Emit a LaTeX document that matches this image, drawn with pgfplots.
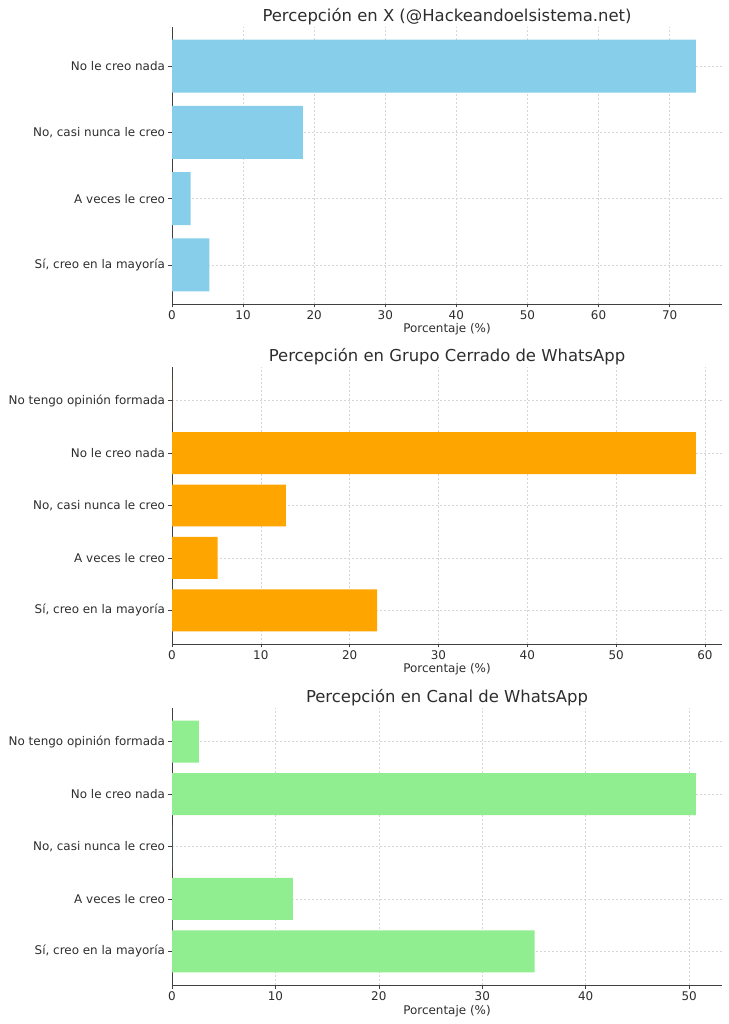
\documentclass[border=0pt]{standalone}
\usepackage{pgfplots}
\pgfplotsset{compat=1.18}
\usepackage{fontspec}
\setmainfont{DejaVu Sans}
\definecolor{skyb}{RGB}{135,206,235}
\definecolor{orng}{RGB}{255,165,0}
\definecolor{lgrn}{RGB}{144,238,144}
\definecolor{txt}{RGB}{45,45,45}
\pgfplotsset{
  panel/.style={
    scale only axis, width=550bp, height=277bp,
    xbar, bar width=0.8, xmin=0,
    axis x line*=bottom, axis y line*=left,
    axis line style={-, black!75},
    tick align=outside, major tick length=3.5bp,
    tick style={black!75, line width=0.6pt},
    grid=major,
    major grid style={dash pattern=on 2bp off 2bp, black!16, line width=0.45pt},
    ytick={0,1,2,3,4},
    yticklabels={{Sí, creo en la mayoría},{A veces le creo},{No, casi nunca le creo},{No le creo nada},{No tengo opinión formada}},
    ticklabel style={font=\fontsize{12}{14}\selectfont, text=txt},
    /pgf/number format/assume math mode=true,
    xlabel={Porcentaje (\%)},
    xlabel style={font=\fontsize{12}{14}\selectfont, text=txt, at={(0.5,0)}, anchor=base, yshift=-29bp},
    title style={font=\fontsize{16.5}{19}\selectfont, text=txt, at={(0.5,1)}, anchor=base, yshift=0bp},
    xticklabel style={yshift=0bp},
    yticklabel style={xshift=0bp},
  }
}
\begin{document}
\begin{tikzpicture}
\path[use as bounding box] (0,0) rectangle (729bp,1024bp);
% Panel 1
\begin{axis}[panel, at={(172bp,720bp)}, anchor=south west,
  xmax=77.37, ymin=-0.59, ymax=3.59, xtick={0,10,...,70},
  title={Percepción en X (@Hackeandoelsistema.net)}]
\addplot[fill=skyb, draw=none] coordinates {(5.26,0) (2.63,1) (18.42,2) (73.68,3)};
\end{axis}
% Panel 2
\begin{axis}[panel, at={(172bp,380bp)}, anchor=south west,
  xmax=61.92, ymin=-0.64, ymax=4.64, xtick={0,10,...,60},
  title={Percepción en Grupo Cerrado de WhatsApp}]
\addplot[fill=orng, draw=none] coordinates {(23.08,0) (5.13,1) (12.82,2) (58.97,3) (0,4)};
\end{axis}
% Panel 3
\begin{axis}[panel, at={(172bp,39bp)}, anchor=south west,
  xmax=53.18, ymin=-0.64, ymax=4.64, xtick={0,10,...,50},
  title={Percepción en Canal de WhatsApp}]
\addplot[fill=lgrn, draw=none] coordinates {(35.06,0) (11.69,1) (0,2) (50.65,3) (2.60,4)};
\end{axis}
\end{tikzpicture}
\end{document}
